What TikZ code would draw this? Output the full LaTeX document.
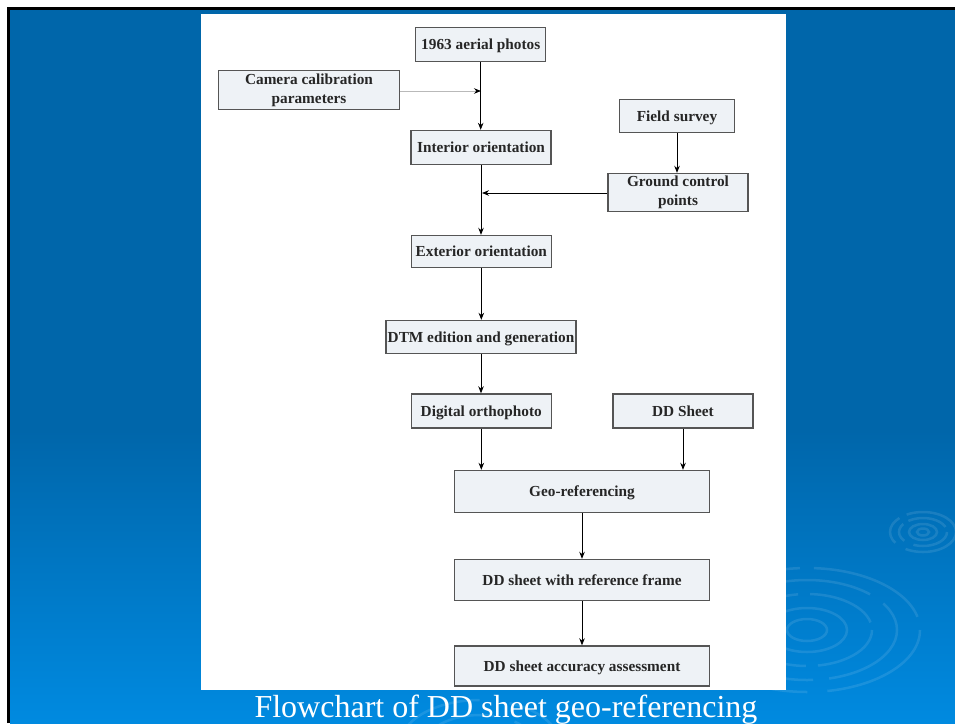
\documentclass[tikz,border=0pt]{standalone}
\usepackage{fontspec}
\setmainfont{Liberation Serif}
\usetikzlibrary{arrows.meta}
\definecolor{bgtop}{HTML}{0066AA}
\definecolor{bgbot}{HTML}{008AE0}
\definecolor{boxfill}{HTML}{EEF2F6}
\definecolor{boxline}{HTML}{555555}
\begin{document}
\begin{tikzpicture}[x=1pt,y=-1pt,
  fbox/.style={draw=boxline, line width=1.4pt, fill=boxfill, inner sep=0pt, align=center,
    text=black!85, font=\bfseries\fontsize{15.3}{19}\selectfont},
  oneline/.style={text height=11.5pt, text depth=1.5pt},
  flow/.style={line width=0.8pt, -{Stealth[length=7pt,width=5.5pt,color=black]}},
  ripple/.style={draw=white, draw opacity=0.10, line width=2.5pt}]
\useasboundingbox (0,0) rectangle (955,723);
% background
\fill[white] (0,0) rectangle (955,723);
\fill[bgtop] (10,10) rectangle (955,723);
\shade[top color=bgtop, bottom color=bgbot] (10,430) rectangle (955,723);
% ripples
\begin{scope}[ripple]
  \draw[dash pattern=on 60pt off 12pt on 30pt off 8pt] (923,532) ellipse [x radius=33, y radius=20];
  \draw[dash pattern=on 40pt off 10pt on 20pt off 6pt] (923,532) ellipse [x radius=24, y radius=14];
  \draw (923,532) ellipse [x radius=14, y radius=8];
  \draw (923,532) ellipse [x radius=6, y radius=3.5];
  \draw[dash pattern=on 120pt off 20pt on 60pt off 14pt] (807,630) ellipse [x radius=113, y radius=62];
  \draw[dash pattern=on 90pt off 16pt on 40pt off 10pt] (807,630) ellipse [x radius=90, y radius=50];
  \draw[dash pattern=on 70pt off 12pt] (807,630) ellipse [x radius=65, y radius=36];
  \draw (807,630) ellipse [x radius=40, y radius=22];
  \draw (807,630) ellipse [x radius=20, y radius=11];
  \draw[dash pattern=on 80pt off 30pt] (480,745) ellipse [x radius=80, y radius=45];
  \draw[dash pattern=on 60pt off 20pt] (480,745) ellipse [x radius=55, y radius=30];
\end{scope}
% white panel
\fill[white] (201,14) rectangle (786,690);
% border
\draw[black, line width=3pt] (8.5,723) -- (8.5,8.5) -- (955,8.5);
% nodes
\node[fbox, oneline, minimum width=130pt, minimum height=34pt] (photos) at (480.7,44.5) {1963 aerial photos};
\node[fbox, minimum width=181pt, minimum height=39pt] (camera) at (309,90) {Camera calibration\\parameters};
\node[fbox, oneline, minimum width=140pt, minimum height=34pt] (interior) at (481,147.5) {Interior orientation};
\node[fbox, oneline, minimum width=115pt, minimum height=33pt] (field) at (677,116) {Field survey};
\node[fbox, minimum width=140pt, minimum height=38pt] (gcp) at (678,192.5) {Ground control\\points};
\node[fbox, oneline, minimum width=140pt, minimum height=32pt] (exterior) at (481.3,251.5) {Exterior orientation};
\node[fbox, oneline, minimum width=190pt, minimum height=33pt] (dtm) at (481,337) {DTM edition and generation};
\node[fbox, oneline, minimum width=140pt, minimum height=34pt] (ortho) at (481.3,411) {Digital orthophoto};
\node[fbox, oneline, minimum width=140pt, minimum height=34pt] (ddsheet) at (683,411) {DD Sheet};
\node[fbox, oneline, minimum width=255pt, minimum height=42pt] (geo) at (582,491.5) {Geo-referencing};
\node[fbox, oneline, minimum width=255pt, minimum height=41pt] (frame) at (582,580) {DD sheet with reference frame};
\node[fbox, oneline, minimum width=255pt, minimum height=40pt] (acc) at (582,666) {DD sheet accuracy assessment};
% junction points
\coordinate (j1) at (481,91);
\coordinate (j2) at (482,193);
% connectors
\draw[flow] (photos.south) -- (photos.south |- interior.north);
\draw[flow, draw=gray!55] (camera.east |- j1) -- (j1);
\draw[flow] (interior.south) -- (interior.south |- exterior.north);
\draw[flow] (field.south) -- (field.south |- gcp.north);
\draw[flow] (gcp.west |- j2) -- (j2);
\draw[flow] (exterior.south) -- (exterior.south |- dtm.north);
\draw[flow] (dtm.south) -- (dtm.south |- ortho.north);
\draw[flow] (ortho.south) -- (ortho.south |- geo.north);
\draw[flow] (ddsheet.south) -- (ddsheet.south |- geo.north);
\draw[flow] (geo.south) -- (frame.north);
\draw[flow] (frame.south) -- (acc.north);
% caption
\node[anchor=base, text=white, inner sep=0pt, font=\fontsize{32}{36}\selectfont] (cap) at (506,717) {Flowchart of DD sheet geo-referencing};
\end{tikzpicture}
\end{document}
